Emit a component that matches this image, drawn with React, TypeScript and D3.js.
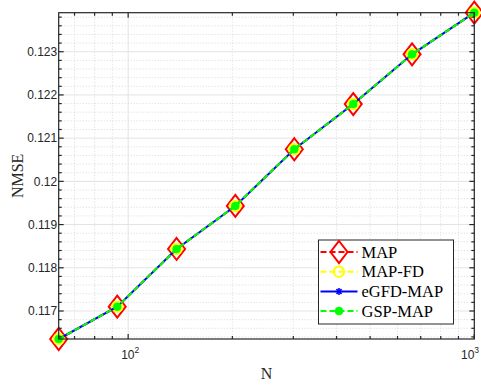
import React from "react";
import * as d3 from "d3";

const nValues = [63, 93, 138, 204, 302, 447, 661, 1000];
const nmseMAP = [0.116352, 0.1171, 0.118435, 0.119431, 0.120743, 0.121789, 0.12294, 0.123903];
const nmseMAPFD = [0.116352, 0.1171, 0.118435, 0.119431, 0.120743, 0.121789, 0.12294, 0.123903];
const nmseEGFD = [0.116352, 0.1171, 0.118435, 0.119431, 0.120743, 0.121789, 0.12294, 0.123903];
const nmseGSP = [0.116352, 0.1171, 0.118435, 0.119431, 0.120743, 0.121789, 0.12294, 0.123903];
const seriesNames = ["MAP", "MAP-FD", "eGFD-MAP", "GSP-MAP"];
const yTickValues = [0.117, 0.118, 0.119, 0.12, 0.121, 0.122, 0.123];
const xMajorTicks = [100, 1000];
const xTickExponents = ["2", "3"];

const W = 481, H = 386;
const L = 58.7, R = 474.3, T = 12.7, B = 339;
const AX = "#262626";

function Marker({ kind, x, y }: { kind: string; x: number; y: number }) {
  if (kind === "diamond")
    return (
      <path
        d={`M${x},${y - 11}L${x + 8.5},${y}L${x},${y + 11}L${x - 8.5},${y}Z`}
        fill="none" stroke="#ff0000" strokeWidth={2} />
    );
  if (kind === "circle")
    return <circle cx={x} cy={y} r={5.2} fill="none" stroke="#ffff00" strokeWidth={2} />;
  if (kind === "star") {
    const s = 3.5, d = 2.5;
    return (
      <g stroke="#0000ff" strokeWidth={1.6}>
        <line x1={x - s} y1={y} x2={x + s} y2={y} />
        <line x1={x} y1={y - s} x2={x} y2={y + s} />
        <line x1={x - d} y1={y - d} x2={x + d} y2={y + d} />
        <line x1={x - d} y1={y + d} x2={x + d} y2={y - d} />
      </g>
    );
  }
  return <circle cx={x} cy={y} r={4} fill="#00ff00" stroke="#00ff00" strokeWidth={0.5} />;
}

export default function App() {
  const yMin = d3.min(nmseMAP)!;
  const yMax = d3.max(nmseMAP)!;
  const x = d3.scaleLog().domain([nValues[0], nValues[nValues.length - 1]]).range([L, R]);
  const y = d3.scaleLinear().domain([yMin, yMax]).range([B, T]);

  const series = [
    { name: seriesNames[0], data: nmseMAP, color: "#ff0000", dash: "6,3", marker: "diamond" },
    { name: seriesNames[1], data: nmseMAPFD, color: "#ffff00", dash: "6,3", marker: "circle" },
    { name: seriesNames[2], data: nmseEGFD, color: "#0000ff", dash: "", marker: "star" },
    { name: seriesNames[3], data: nmseGSP, color: "#00ff00", dash: "6,3", marker: "dot" },
  ];

  const line = d3.line<number>().x((_, i) => x(nValues[i])).y((d) => y(d));

  const xMinor: number[] = [];
  [10, 100].forEach((dec) => {
    for (let k = 2; k <= 9; k++) {
      const v = dec * k;
      if (v > x.domain()[0] && v < x.domain()[1] && v !== 100) xMinor.push(v);
    }
  });
  const yMinor: number[] = [];
  for (let v = Math.ceil(yMin / 0.0002) * 0.0002; v <= yMax; v += 0.0002) {
    const r = Math.round(v * 10000) / 10000;
    if (Math.abs(r * 1000 - Math.round(r * 1000)) > 1e-6) yMinor.push(r);
  }

  const legX = 318.5, legY = 240, legW = 135, legH = 84;
  const legRows = [252, 271.7, 291.5, 311];

  return (
    <svg width={W} height={H} style={{ position: "absolute", left: 0, top: 0, background: "#fff" }}>
      <rect x={0} y={0} width={W} height={H} fill="#fff" />
      {/* minor grid */}
      <g stroke="#cfcfcf" strokeWidth={0.8} strokeDasharray="1,2">
        {xMinor.map((v) => (
          <line key={"xm" + v} x1={x(v)} x2={x(v)} y1={T} y2={B} />
        ))}
        {yMinor.map((v) => (
          <line key={"ym" + v} x1={L} x2={R} y1={y(v)} y2={y(v)} />
        ))}
      </g>
      {/* major grid */}
      <g stroke="#e3e3e3" strokeWidth={1}>
        {xMajorTicks.map((v) => (
          <line key={"xg" + v} x1={x(v)} x2={x(v)} y1={T} y2={B} />
        ))}
        {yTickValues.map((v) => (
          <line key={"yg" + v} x1={L} x2={R} y1={y(v)} y2={y(v)} />
        ))}
      </g>
      {/* series */}
      {series.map((s) => (
        <g key={s.name}>
          <path d={line(s.data) || ""} fill="none" stroke={s.color} strokeWidth={2}
            strokeDasharray={s.dash || undefined} />
          {s.data.map((d, i) => (
            <Marker key={i} kind={s.marker} x={x(nValues[i])} y={y(d)} />
          ))}
        </g>
      ))}
      {/* axes box and ticks */}
      <g stroke={AX} strokeWidth={1.2} fill="none">
        <rect x={L} y={T} width={R - L} height={B - T} />
        {yTickValues.map((v) => (
          <g key={"yt" + v}>
            <line x1={L} x2={L + 5} y1={y(v)} y2={y(v)} />
            <line x1={R} x2={R - 5} y1={y(v)} y2={y(v)} />
          </g>
        ))}
        {yMinor.map((v) => (
          <g key={"ymt" + v}>
            <line x1={L} x2={L + 3} y1={y(v)} y2={y(v)} />
            <line x1={R} x2={R - 3} y1={y(v)} y2={y(v)} />
          </g>
        ))}
        {xMajorTicks.map((v) => (
          <g key={"xt" + v}>
            <line x1={x(v)} x2={x(v)} y1={B} y2={B - 5} />
            <line x1={x(v)} x2={x(v)} y1={T} y2={T + 5} />
          </g>
        ))}
        {xMinor.map((v) => (
          <g key={"xmt" + v}>
            <line x1={x(v)} x2={x(v)} y1={B} y2={B - 3} />
            <line x1={x(v)} x2={x(v)} y1={T} y2={T + 3} />
          </g>
        ))}
      </g>
      {/* tick labels */}
      <g fill={AX} fontFamily="'Liberation Sans', Arial, sans-serif" fontSize={12}>
        {yTickValues.map((v) => (
          <text key={"yl" + v} x={L - 1.5} y={y(v) + 4.3} textAnchor="end">
            {String(+v.toFixed(3))}
          </text>
        ))}
        {xMajorTicks.map((v, i) => (
          <text key={"xl" + v} x={Math.min(x(v) - 7, W - 20)} y={359}>
            10
            <tspan fontSize={8.5} dy={-6}>{xTickExponents[i]}</tspan>
          </text>
        ))}
      </g>
      {/* axis labels */}
      <text x={(L + R) / 2} y={379} textAnchor="middle" fontFamily="'Liberation Serif', serif" fontSize={16} fill={AX}>
        N
      </text>
      <text transform={`translate(22.5,${(T + B) / 2}) rotate(-90)`} textAnchor="middle"
        fontFamily="'Liberation Serif', serif" fontSize={16} fill={AX}>
        NMSE
      </text>
      {/* legend */}
      <g>
        <rect x={legX} y={legY} width={legW} height={legH} fill="#fff" stroke={AX} strokeWidth={1} />
        {series.map((s, i) => (
          <g key={"lg" + s.name}>
            <line x1={320.5} x2={357.5} y1={legRows[i]} y2={legRows[i]} stroke={s.color} strokeWidth={2}
              strokeDasharray={s.dash || undefined} />
            <Marker kind={s.marker} x={339} y={legRows[i]} />
            <text x={361.5} y={legRows[i] + 5.5} fontFamily="'Liberation Serif', serif" fontSize={16.5} fill="#000">
              {s.name}
            </text>
          </g>
        ))}
      </g>
    </svg>
  );
}
